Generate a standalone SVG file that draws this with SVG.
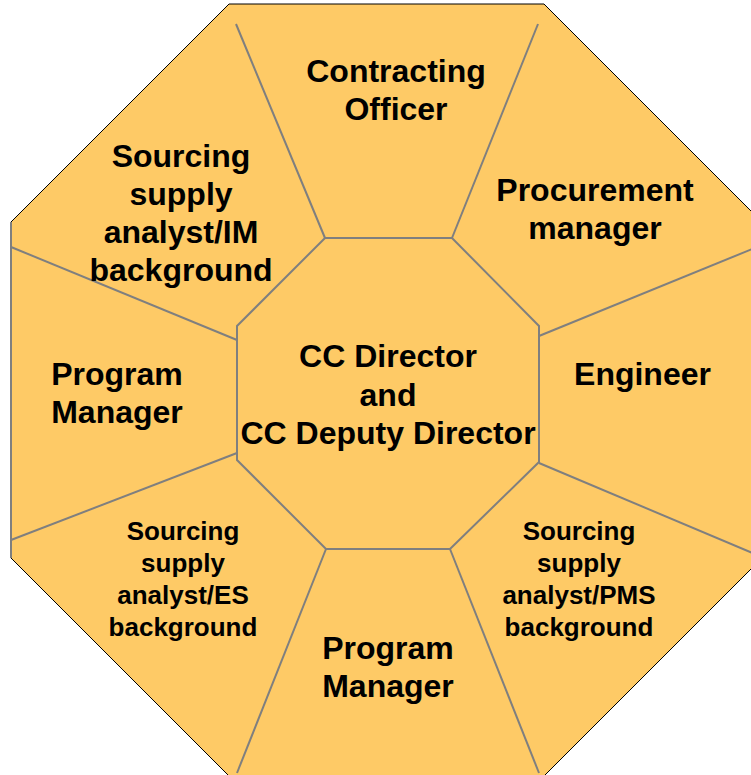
<svg xmlns="http://www.w3.org/2000/svg" width="751" height="775" viewBox="0 0 751 775">
<style>
.big{font-family:"Liberation Sans",Arial,sans-serif;font-weight:bold;font-size:32px;fill:#000;text-anchor:middle}
.small{font-family:"Liberation Sans",Arial,sans-serif;font-weight:bold;font-size:26px;fill:#000;text-anchor:middle}
.div{stroke:#7f7f7f;stroke-width:2;fill:none}
</style>
<rect width="751" height="775" fill="#ffffff"/>
<g id="outer">
<polygon points="229,4 544,4 762,222 762,558 544,776 229,776 11,558 11,222" fill="#FECA66" stroke="#000" stroke-width="1"/>
<line x1="11" y1="222" x2="11" y2="558" class="div"/>
</g>
<g id="dividers">
<line x1="325" y1="238" x2="236" y2="24" class="div"/>
<line x1="452" y1="238" x2="538" y2="24" class="div"/>
<line x1="237" y1="340" x2="11" y2="247" class="div"/>
<line x1="237" y1="453" x2="11" y2="540" class="div"/>
<line x1="326" y1="549" x2="237" y2="773" class="div"/>
<line x1="450" y1="549" x2="539" y2="773" class="div"/>
<line x1="539" y1="463" x2="762" y2="557" class="div"/>
<line x1="539" y1="336" x2="762" y2="245" class="div"/>
</g>
<g id="center">
<polygon points="325,238 452,238 539,326 539,462 450,549 326,549 237,460 237,326" fill="#FECA66" stroke="#7f7f7f" stroke-width="2"/>
<text class="big" x="388" y="367">CC Director</text>
<text class="big" x="388" y="405.5">and</text>
<text class="big" x="388" y="444">CC Deputy Director</text>
</g>
<g id="contracting-officer">
<text class="big" x="396" y="82">Contracting</text>
<text class="big" x="396" y="120">Officer</text>
</g>
<g id="procurement-manager">
<text class="big" x="595" y="201">Procurement</text>
<text class="big" x="595" y="239">manager</text>
</g>
<g id="engineer">
<text class="big" x="642.5" y="385">Engineer</text>
</g>
<g id="ssa-pms">
<text class="small" x="579" y="539.5">Sourcing</text>
<text class="small" x="579" y="571.5">supply</text>
<text class="small" x="579" y="603.5">analyst/PMS</text>
<text class="small" x="579" y="635.5">background</text>
</g>
<g id="program-manager-bottom">
<text class="big" x="388" y="659">Program</text>
<text class="big" x="388" y="697">Manager</text>
</g>
<g id="ssa-es">
<text class="small" x="183" y="539.5">Sourcing</text>
<text class="small" x="183" y="571.5">supply</text>
<text class="small" x="183" y="603.5">analyst/ES</text>
<text class="small" x="183" y="635.5">background</text>
</g>
<g id="program-manager-left">
<text class="big" x="117" y="385">Program</text>
<text class="big" x="117" y="423">Manager</text>
</g>
<g id="ssa-im">
<text class="big" x="181" y="167">Sourcing</text>
<text class="big" x="181" y="205">supply</text>
<text class="big" x="181" y="243">analyst/IM</text>
<text class="big" x="181" y="281">background</text>
</g>
</svg>
